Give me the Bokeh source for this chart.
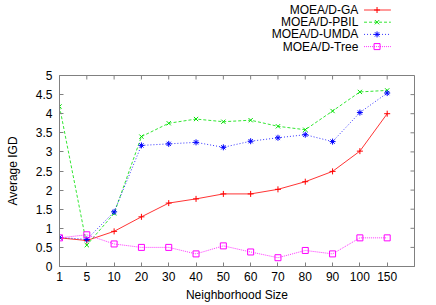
import numpy as np
from bokeh.plotting import figure
from bokeh.layouts import column
from bokeh.models import Range1d, FixedTicker
from bokeh.core.properties import value
from bokeh.embed import file_html
from bokeh.resources import INLINE

# ---- data ----
sizes = ["1", "5", "10", "20", "30", "40", "50", "60", "70", "80", "90", "100", "150"]
ga    = [0.75, 0.68, 0.92, 1.30, 1.66, 1.77, 1.90, 1.90, 2.02, 2.22, 2.49, 3.02, 4.00]
pbil  = [4.19, 0.56, 1.39, 3.40, 3.75, 3.86, 3.79, 3.83, 3.67, 3.58, 4.07, 4.57, 4.61]
umda  = [0.76, 0.71, 1.43, 3.17, 3.21, 3.25, 3.12, 3.28, 3.37, 3.45, 3.27, 4.03, 4.54]
tree  = [0.75, 0.83, 0.59, 0.50, 0.50, 0.33, 0.54, 0.38, 0.23, 0.42, 0.33, 0.75, 0.75]
names = ["MOEA/D-GA", "MOEA/D-PBIL", "MOEA/D-UMDA", "MOEA/D-Tree"]
y_ticks = [0, 0.5, 1, 1.5, 2, 2.5, 3, 3.5, 4, 4.5, 5]

series = [ga, pbil, umda, tree]
colors = ["#ff0000", "#00e000", "#0000ff", "#ff00ff"]
dashes = ["solid", "3 2", "1 2", "1 1"]
markers = ["cross", "x", "asterisk", "square"]

FONT = "Liberation Sans"
GRAY = "#808080"

x = list(range(len(sizes)))
x_ticks = list(range(len(sizes) + 1))
x_max = len(sizes)
y_max = y_ticks[-1]

# ---- main plot ----
p = figure(width=436, height=242, output_backend="svg", toolbar_location=None,
           x_range=Range1d(0, x_max), y_range=Range1d(0, y_max),
           min_border_left=59, min_border_right=22, min_border_top=12, min_border_bottom=39)
p.grid.visible = False
p.outline_line_color = GRAY
p.outline_line_width = 1

p.xaxis.ticker = FixedTicker(ticks=x_ticks)
ov = {i: s for i, s in enumerate(sizes)}
ov[x_max] = ""
p.xaxis.major_label_overrides = ov
p.yaxis.ticker = FixedTicker(ticks=y_ticks)
p.yaxis.major_label_overrides = {t: ("%g" % t) for t in y_ticks}

for ax in (p.xaxis[0], p.yaxis[0]):
    ax.axis_line_color = GRAY
    ax.major_tick_line_color = GRAY
    ax.major_tick_in = 4
    ax.major_tick_out = 0
    ax.minor_tick_line_color = None
    ax.major_label_text_font = FONT
    ax.major_label_text_font_size = "12px"
    ax.major_label_text_color = "#000000"
    ax.axis_label_text_font = FONT
    ax.axis_label_text_font_size = "12px"
    ax.axis_label_text_font_style = "normal"
    ax.axis_label_text_color = "#000000"

p.xaxis.axis_label = "Neighborhood Size"
p.xaxis.major_label_standoff = 5
p.xaxis.axis_label_standoff = 4
p.yaxis.axis_label = "Average IGD"
p.yaxis.major_label_standoff = 7
p.yaxis.axis_label_standoff = 13

# mirrored inward ticks on the right and top edges
p.ray(x=[x_max] * len(y_ticks), y=y_ticks, length=4, length_units="screen",
      angle=np.pi, line_color=GRAY, line_width=1)
p.ray(x=x_ticks, y=[y_max] * len(x_ticks), length=4, length_units="screen",
      angle=-np.pi / 2, line_color=GRAY, line_width=1)

for ys, c, d, m in zip(series, colors, dashes, markers):
    p.line(x, ys, line_color=c, line_dash=d, line_width=1, line_alpha=0.8)
    if m == "square":
        p.scatter(x, ys, marker=m, size=6, line_color=c, fill_color=None, line_width=1)
    else:
        p.scatter(x, ys, marker=m, size=6, line_color=c, fill_color=c, line_width=1)

# ---- legend (separate strip above) ----
lg = figure(width=436, height=63, output_backend="svg", toolbar_location=None,
            x_range=Range1d(0, 436), y_range=Range1d(63, 0),
            x_axis_type=None, y_axis_type=None, min_border=0)
lg.grid.visible = False
lg.outline_line_color = None
rows = [9.5, 21.7, 33.9, 46.1]
lg.text(x=[367] * 4, y=rows, text=names, text_align="right", text_baseline="middle",
        text_font=value(FONT), text_font_size="12px", text_color="#000000")
for r, c, d, m in zip(rows, colors, dashes, markers):
    lg.line([374, 407], [r, r], line_color=c, line_dash=d, line_width=1, line_alpha=0.8)
    if m == "square":
        lg.scatter([390], [r], marker=m, size=6, line_color=c, fill_color=None)
    else:
        lg.scatter([390], [r], marker=m, size=6, line_color=c, fill_color=c)

layout = column(lg, p, spacing=0)
open("out.html", "w").write(file_html(layout, INLINE))
